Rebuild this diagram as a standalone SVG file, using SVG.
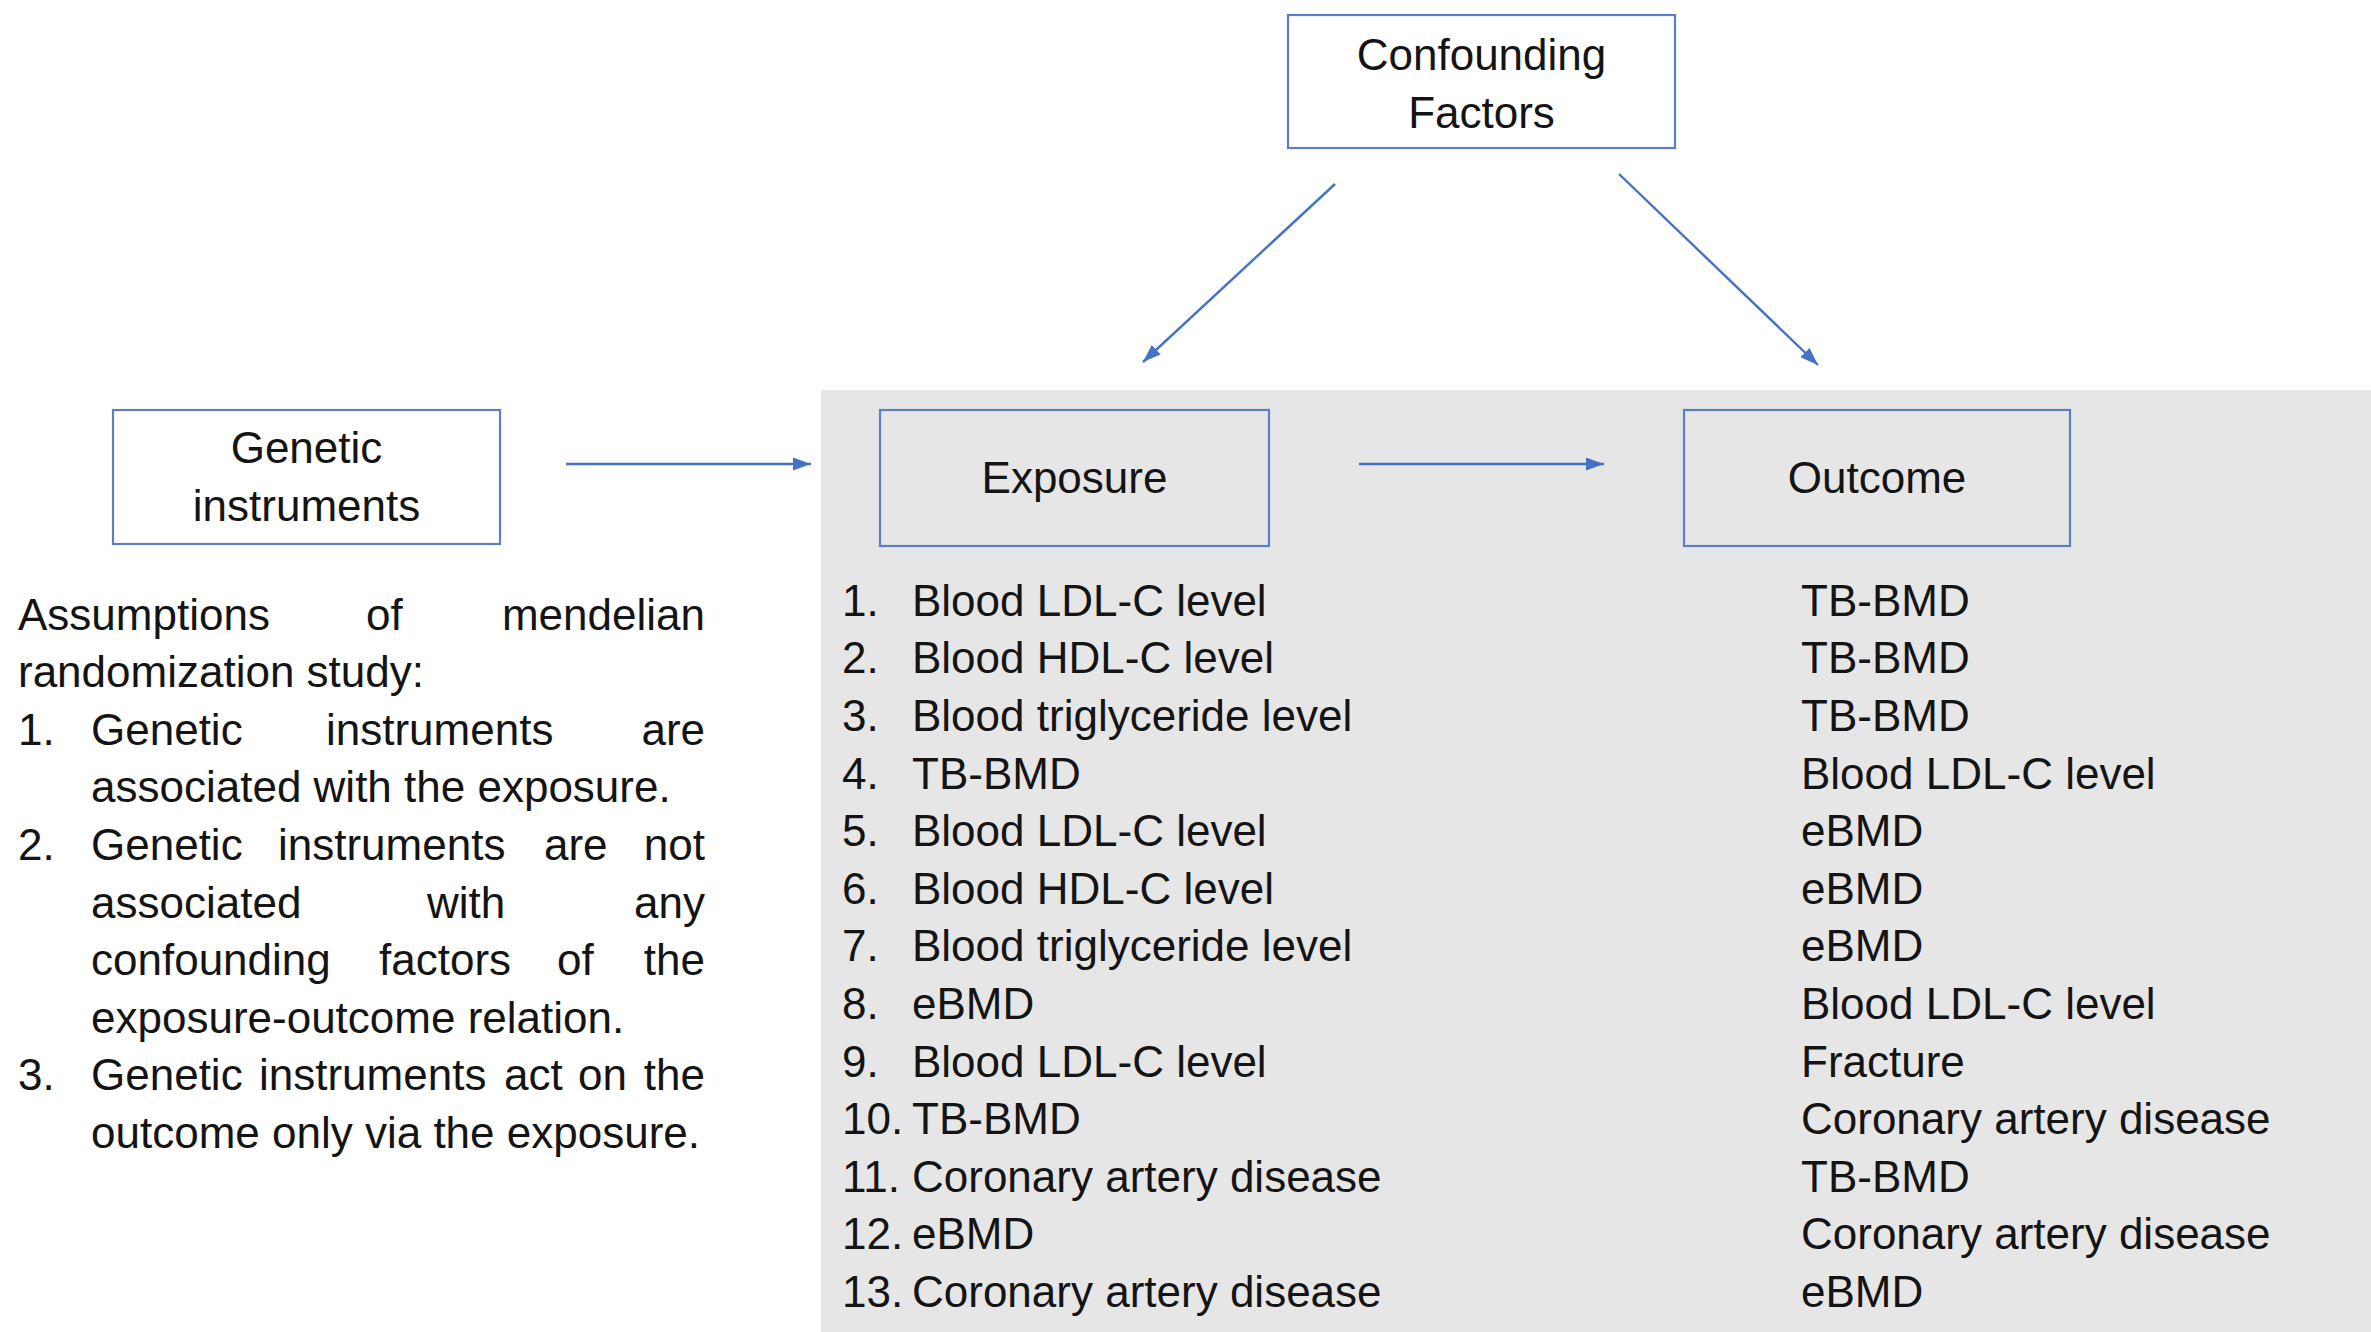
<svg xmlns="http://www.w3.org/2000/svg" width="2371" height="1332" viewBox="0 0 2371 1332">
<style>
text{font-family:"Liberation Sans",Arial,sans-serif;font-size:44px;fill:#141414}
.c{text-anchor:middle}
.e{text-anchor:end}
.box{stroke:#5b7fc2;stroke-width:2.2}
.conn line{stroke:#4472c4;stroke-width:2.4;marker-end:url(#ah)}
</style>
<defs>
<marker id="ah" markerUnits="userSpaceOnUse" markerWidth="18" markerHeight="13" refX="18" refY="6.5" orient="auto">
<path d="M0,0 L18,6.5 L0,13 z" fill="#4472c4"/>
</marker>
</defs>
<rect width="2371" height="1332" fill="#ffffff"/>
<rect id="panel" x="821" y="390" width="1550" height="942" fill="#e7e6e6"/>

<g id="confounding">
<rect class="box" x="1288" y="15" width="387" height="133" fill="#ffffff"/>
<text class="c" x="1481.5" y="70">Confounding</text>
<text class="c" x="1481.5" y="127.5">Factors</text>
</g>

<g id="genetic">
<rect class="box" x="113" y="410" width="387" height="134" fill="#ffffff"/>
<text class="c" x="306.5" y="463">Genetic</text>
<text class="c" x="306.5" y="520.5">instruments</text>
</g>

<g id="exposure">
<rect class="box" x="880" y="410" width="389" height="136" fill="none"/>
<text class="c" x="1074.5" y="493">Exposure</text>
</g>

<g id="outcome">
<rect class="box" x="1684" y="410" width="386" height="136" fill="none"/>
<text class="c" x="1877" y="493">Outcome</text>
</g>

<g id="connectors" class="conn">
<line x1="566" y1="464" x2="811" y2="464"/>
<line x1="1359" y1="464" x2="1604" y2="464"/>
<line x1="1335" y1="184" x2="1143" y2="362"/>
<line x1="1619" y1="174" x2="1818" y2="365"/>
</g>

<g id="assumptions">
<text x="18" y="629.5">Assumptions</text>
<text x="366" y="629.5">of</text>
<text class="e" x="705" y="629.5">mendelian</text>
<text x="18" y="687.1">randomization study:</text>
<text x="18" y="744.7">1.</text>
<text x="91" y="744.7">Genetic</text>
<text x="326" y="744.7">instruments</text>
<text class="e" x="705" y="744.7">are</text>
<text x="91" y="802.3">associated with the exposure.</text>
<text x="18" y="859.9">2.</text>
<text x="91" y="859.9">Genetic</text>
<text x="278" y="859.9">instruments</text>
<text x="544" y="859.9">are</text>
<text class="e" x="705" y="859.9">not</text>
<text x="91" y="917.5">associated</text>
<text x="427" y="917.5">with</text>
<text class="e" x="705" y="917.5">any</text>
<text x="91" y="975.1">confounding</text>
<text x="379" y="975.1">factors</text>
<text x="557" y="975.1">of</text>
<text class="e" x="705" y="975.1">the</text>
<text x="91" y="1032.7">exposure-outcome relation.</text>
<text x="18" y="1090.3">3.</text>
<text x="91" y="1090.3">Genetic</text>
<text x="259" y="1090.3">instruments</text>
<text x="504" y="1090.3">act</text>
<text x="578" y="1090.3">on</text>
<text class="e" x="705" y="1090.3">the</text>
<text x="91" y="1147.9">outcome only via the exposure.</text>
</g>

<g id="exposure-list">
<text x="842" y="615.8">1.</text><text x="912" y="615.8">Blood LDL-C level</text>
<text x="842" y="673.4">2.</text><text x="912" y="673.4">Blood HDL-C level</text>
<text x="842" y="731">3.</text><text x="912" y="731">Blood triglyceride level</text>
<text x="842" y="788.6">4.</text><text x="912" y="788.6">TB-BMD</text>
<text x="842" y="846.2">5.</text><text x="912" y="846.2">Blood LDL-C level</text>
<text x="842" y="903.8">6.</text><text x="912" y="903.8">Blood HDL-C level</text>
<text x="842" y="961.4">7.</text><text x="912" y="961.4">Blood triglyceride level</text>
<text x="842" y="1019">8.</text><text x="912" y="1019">eBMD</text>
<text x="842" y="1076.6">9.</text><text x="912" y="1076.6">Blood LDL-C level</text>
<text x="842" y="1134.2">10.</text><text x="912" y="1134.2">TB-BMD</text>
<text x="842" y="1191.8">11.</text><text x="912" y="1191.8">Coronary artery disease</text>
<text x="842" y="1249.4">12.</text><text x="912" y="1249.4">eBMD</text>
<text x="842" y="1307">13.</text><text x="912" y="1307">Coronary artery disease</text>
</g>

<g id="outcome-list">
<text x="1801" y="615.8">TB-BMD</text>
<text x="1801" y="673.4">TB-BMD</text>
<text x="1801" y="731">TB-BMD</text>
<text x="1801" y="788.6">Blood LDL-C level</text>
<text x="1801" y="846.2">eBMD</text>
<text x="1801" y="903.8">eBMD</text>
<text x="1801" y="961.4">eBMD</text>
<text x="1801" y="1019">Blood LDL-C level</text>
<text x="1801" y="1076.6">Fracture</text>
<text x="1801" y="1134.2">Coronary artery disease</text>
<text x="1801" y="1191.8">TB-BMD</text>
<text x="1801" y="1249.4">Coronary artery disease</text>
<text x="1801" y="1307">eBMD</text>
</g>
</svg>
